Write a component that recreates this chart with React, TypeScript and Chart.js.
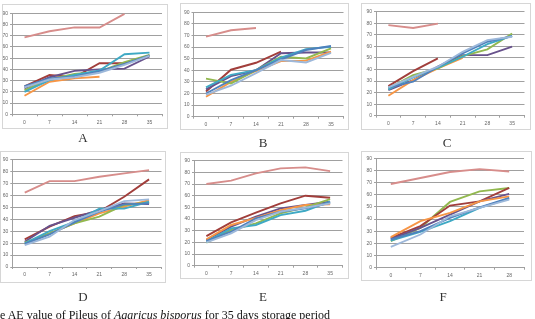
import React, { useEffect, useRef } from "react";
import { Chart, registerables } from "chart.js";
Chart.register(...registerables);

// ---------- data ----------
const days6 = ["0", "7", "14", "21", "28", "35"];
const days5 = ["0", "7", "14", "21", "28"];
const yMin = 0;
const yMax = 90;
const yStep = 10;

// Panel A
const aPink = [68.5, 74, 77.5, 77.3, 89.5, null];
const aLight = [24, 31, 33, 37, 44, 52];
const aBlue = [25, 32, 33.5, 38.5, 45, 52.5];
const aTeal = [20, 30.5, 35, 39, 53.5, 55];
const aGreen = [21.5, 31, 36, 38, 46.5, 53];
const aPurple = [23, 33, 38.7, 40, 40.7, 51.5];
const aOrange = [16.5, 29, 32, 33.5, null, null];
const aRed = [25, 35, 33, 45.5, 45.5, 52.5];

// Panel B
const bPink = [69, 74.5, 76.5, null, null, null];
const bLight = [19, 26.7, 37.6, 48.8, 46.8, 55];
const bBlue = [20, 31.6, 40.2, 49.4, 57.5, 61];
const bTeal = [25.3, 36, 40.2, 51, 58.3, 60.3];
const bGreen = [32.8, 28.7, 40.2, 51.7, 50.2, 58.9];
const bOrange = [17.2, 30, 39.4, 48, 48.3, 56];
const bPurple = [23.6, 35, 40, 54.7, 55.3, 55.3];
const bRed = [21.8, 40.5, 46.5, 56, null, null];

// Panel C
const cPink = [78.4, 75.9, 79.7, null, null, null];
const cLight = [24.5, 33.7, 42.4, 55.3, 65.4, 68.3];
const cBlue = [24.5, 29.4, 42.4, 54, 64, 68.9];
const cTeal = [22.8, 33.1, 41.5, 51, 62, 69];
const cGreen = [23.6, 35, 41, 51.6, 57.4, 71.2];
const cOrange = [17.3, 30.8, 41, 50, null, null];
const cPurple = [22.2, 30.8, 42.4, 52.4, 52.4, 59.7];
const cRed = [25.6, 38.6, 49.6, null, null, null];

// Panel D
const dPink = [62.3, 72, 72, 75.7, 78.5, 81.3];
const dLight = [18.4, 25.4, 39.4, 46.9, 55.3, 56.7];
const dBlue = [19.3, 27.4, 37.4, 46.4, 52.5, 53.4];
const dTeal = [19.8, 30, 37.9, 49, 49, 54.7];
const dGreen = [20.4, 28.2, 36.6, 42.2, 52, 54.2];
const dOrange = [19.3, 28.2, 36.6, 45, 50.6, 56];
const dPurple = [21.2, 34.6, 41.3, 47.8, 53.4, 52.8];
const dRed = [23.2, 33.8, 42.7, 46.4, 58.9, 73.5];

// Panel E
const ePink = [70, 72.9, 79.1, 83.4, 84.3, 81.1];
const eLight = [20, 27.7, 39.1, 46.3, 49.7, 53.4];
const eBlue = [21.1, 29.1, 40.6, 46.3, 49.1, 54];
const eTeal = [20.6, 32, 34.9, 43.4, 47.1, 54.9];
const eGreen = [19.7, 30.6, 36.3, 44.9, 50, 57.1];
const eOrange = [22.6, 34.9, 41, 47.7, 52, 52.6];
const ePurple = [22, 33.4, 42, 49.1, 52, 54.9];
const eRed = [25.4, 37.1, 45.4, 53.4, 60, 58.3];

// Panel F
const fPink = [68.9, 73.8, 78.7, 81.1, 79.2];
const fLight = [17.2, 27.3, 42.3, 49.2, 56];
const fBlue = [23.2, 30.1, 41, 49.7, 57.4];
const fTeal = [22.4, 29.5, 38.3, 49.2, 56.8];
const fGreen = [21.9, 32.8, 54.1, 62.8, 65.6];
const fOrange = [25.1, 38.3, 45.1, 54.6, 58.7];
const fPurple = [23.8, 32.8, 43.7, 54.6, 60.7];
const fRed = [24.6, 34.2, 51.1, 54.6, 65.6];

const panelLetters = ["A", "B", "C", "D", "E", "F"];
const captionBefore = "e AE value of Pileus of ";
const captionItalic = "Agaricus bisporus";
const captionAfter = " for 35 days storage period";

// ---------- styles ----------
const COLORS = {
  pink: "#D78D8B",
  light: "#9DB8DA",
  blue: "#4F81BD",
  teal: "#3FA9C4",
  green: "#92B84F",
  orange: "#F79646",
  purple: "#68528C",
  red: "#A13E3B",
};

type Series = { color: string; data: (number | null)[] };

const panelSeries: Series[][] = [
  [
    { color: COLORS.pink, data: aPink },
    { color: COLORS.light, data: aLight },
    { color: COLORS.blue, data: aBlue },
    { color: COLORS.teal, data: aTeal },
    { color: COLORS.green, data: aGreen },
    { color: COLORS.purple, data: aPurple },
    { color: COLORS.red, data: aRed },
    { color: COLORS.orange, data: aOrange },
  ],
  [
    { color: COLORS.pink, data: bPink },
    { color: COLORS.light, data: bLight },
    { color: COLORS.blue, data: bBlue },
    { color: COLORS.teal, data: bTeal },
    { color: COLORS.green, data: bGreen },
    { color: COLORS.orange, data: bOrange },
    { color: COLORS.purple, data: bPurple },
    { color: COLORS.red, data: bRed },
  ],
  [
    { color: COLORS.pink, data: cPink },
    { color: COLORS.light, data: cLight },
    { color: COLORS.blue, data: cBlue },
    { color: COLORS.teal, data: cTeal },
    { color: COLORS.green, data: cGreen },
    { color: COLORS.orange, data: cOrange },
    { color: COLORS.purple, data: cPurple },
    { color: COLORS.red, data: cRed },
  ],
  [
    { color: COLORS.pink, data: dPink },
    { color: COLORS.light, data: dLight },
    { color: COLORS.blue, data: dBlue },
    { color: COLORS.teal, data: dTeal },
    { color: COLORS.green, data: dGreen },
    { color: COLORS.orange, data: dOrange },
    { color: COLORS.purple, data: dPurple },
    { color: COLORS.red, data: dRed },
  ],
  [
    { color: COLORS.pink, data: ePink },
    { color: COLORS.light, data: eLight },
    { color: COLORS.blue, data: eBlue },
    { color: COLORS.teal, data: eTeal },
    { color: COLORS.green, data: eGreen },
    { color: COLORS.orange, data: eOrange },
    { color: COLORS.purple, data: ePurple },
    { color: COLORS.red, data: eRed },
  ],
  [
    { color: COLORS.pink, data: fPink },
    { color: COLORS.light, data: fLight },
    { color: COLORS.blue, data: fBlue },
    { color: COLORS.teal, data: fTeal },
    { color: COLORS.orange, data: fOrange },
    { color: COLORS.purple, data: fPurple },
    { color: COLORS.red, data: fRed },
    { color: COLORS.green, data: fGreen },
  ],
];

const panelCategories = [days6, days6, days6, days6, days6, days5];

// layout (page coordinates): box and plot area
type Layout = {
  box: { x: number; y: number; w: number; h: number };
  plot: { l: number; r: number; t: number; b: number };
  label: { x: number; y: number };
};
const layouts: Layout[] = [
  { box: { x: 2, y: 4, w: 166, h: 125 }, plot: { l: 12, r: 162, t: 13.3, b: 114.3 }, label: { x: 83, y: 137 } },
  { box: { x: 180, y: 3, w: 169, h: 127 }, plot: { l: 193.5, r: 343.5, t: 12.3, b: 116.7 }, label: { x: 263, y: 142 } },
  { box: { x: 361, y: 3, w: 170, h: 127 }, plot: { l: 376, r: 524.5, t: 11.7, b: 115.7 }, label: { x: 447, y: 142 } },
  { box: { x: 0, y: 151, w: 166, h: 132 }, plot: { l: 12.3, r: 161.5, t: 159.7, b: 267 }, label: { x: 83, y: 296 } },
  { box: { x: 180, y: 152, w: 169, h: 127 }, plot: { l: 194, r: 342.5, t: 160.7, b: 265.7 }, label: { x: 263, y: 296 } },
  { box: { x: 361, y: 151, w: 171, h: 130 }, plot: { l: 376, r: 524, t: 158.3, b: 267.7 }, label: { x: 443, y: 296 } },
];

const GRID = "#a0a0a0";
const TICK_FONT = { family: "'Liberation Sans', Arial, sans-serif", size: 5 };

function Panel({ idx }: { idx: number }) {
  const ref = useRef<HTMLCanvasElement | null>(null);
  const lay = layouts[idx];
  useEffect(() => {
    if (!ref.current) return;
    const { box, plot } = lay;
    const yW = plot.l - box.x;
    const xH = box.y + box.h - plot.b;
    const chart = new Chart(ref.current, {
      type: "line",
      data: {
        labels: panelCategories[idx],
        datasets: panelSeries[idx].map((s) => ({
          data: s.data,
          borderColor: s.color,
          backgroundColor: s.color,
          borderWidth: 1.9,
          pointRadius: 0,
          tension: 0,
          fill: false,
          spanGaps: false,
        })),
      },
      options: {
        responsive: false,
        animation: false,
        devicePixelRatio: 1,
        layout: {
          padding: { top: plot.t - box.y, right: box.x + box.w - plot.r, left: 0, bottom: 0 },
        },
        plugins: { legend: { display: false }, tooltip: { enabled: false }, title: { display: false } },
        scales: {
          x: {
            type: "category",
            offset: true,
            grid: { display: true, drawOnChartArea: false, offset: true, color: GRID, tickLength: 2 },
            border: { display: true, color: GRID },
            ticks: { font: TICK_FONT, color: "#666", padding: 3, maxRotation: 0, autoSkip: false },
            afterFit: (scale: any) => {
              scale.height = xH;
            },
          },
          y: {
            min: yMin,
            max: yMax,
            grid: { color: GRID, lineWidth: 1, tickLength: 2 },
            border: { display: true, color: GRID },
            ticks: { stepSize: yStep, font: TICK_FONT, color: "#666", padding: 2 },
            afterFit: (scale: any) => {
              scale.width = yW;
            },
          },
        },
      },
    });
    return () => chart.destroy();
  }, [idx]);
  const { box, label } = lay;
  return (
    <>
      <canvas
        ref={ref}
        width={box.w}
        height={box.h}
        style={{ position: "absolute", left: box.x, top: box.y, width: box.w, height: box.h }}
      />
      <div
        style={{
          position: "absolute",
          left: box.x,
          top: box.y,
          width: box.w,
          height: box.h,
          border: "1px solid #d6d6d6",
          boxSizing: "border-box",
        }}
      />
      <div
        style={{
          position: "absolute",
          left: label.x,
          top: label.y,
          transform: "translate(-50%, -50%)",
          fontFamily: "'Liberation Serif', 'Times New Roman', serif",
          fontSize: 13,
          lineHeight: "13px",
          color: "#333",
        }}
      >
        {panelLetters[idx]}
      </div>
    </>
  );
}

export default function App() {
  return (
    <div
      style={{
        position: "fixed",
        left: 0,
        top: 0,
        width: 535,
        height: 319,
        overflow: "hidden",
        background: "#fff",
      }}
    >
      {layouts.map((_, i) => (
        <Panel key={i} idx={i} />
      ))}
      <div
        style={{
          position: "absolute",
          left: 0,
          top: 309,
          whiteSpace: "nowrap",
          fontFamily: "'Liberation Serif', 'Times New Roman', serif",
          fontSize: 12,
          lineHeight: "12px",
          color: "#111",
        }}
      >
        {captionBefore}
        <i>{captionItalic}</i>
        {captionAfter}
      </div>
    </div>
  );
}
